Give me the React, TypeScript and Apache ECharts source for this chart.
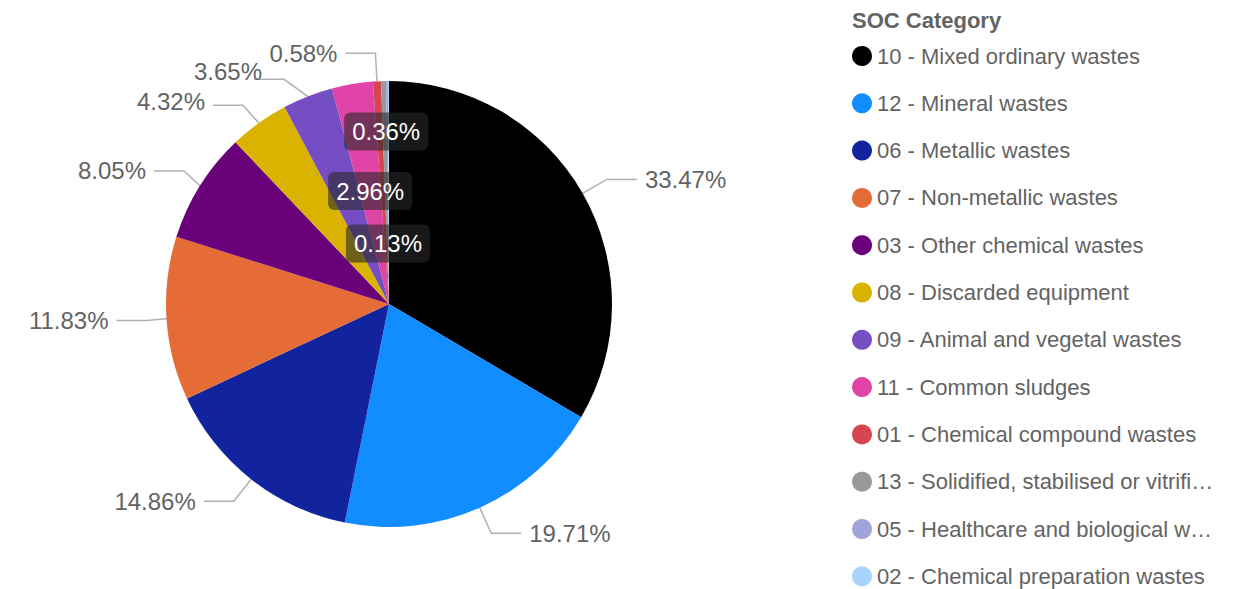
import React, { useEffect, useRef } from "react";
import * as echarts from "echarts";

const categories: string[] = [
  "10 - Mixed ordinary wastes",
  "12 - Mineral wastes",
  "06 - Metallic wastes",
  "07 - Non-metallic wastes",
  "03 - Other chemical wastes",
  "08 - Discarded equipment",
  "09 - Animal and vegetal wastes",
  "11 - Common sludges",
  "01 - Chemical compound wastes",
  "13 - Solidified, stabilised or vitrified wastes",
  "05 - Healthcare and biological wastes",
  "02 - Chemical preparation wastes",
];

const shares: number[] = [33.47, 19.71, 14.86, 11.83, 8.05, 4.32, 3.65, 2.96, 0.58, 0.36, 0.13, 0.08];

const colors: string[] = [
  "#000000",
  "#118DFF",
  "#12239E",
  "#E66C37",
  "#6B007B",
  "#D9B300",
  "#744EC2",
  "#E044A7",
  "#D64550",
  "#999999",
  "#A0A4D8",
  "#A8D4FF",
];

const insideLabels: string[] = [
  "11 - Common sludges",
  "13 - Solidified, stabilised or vitrified wastes",
  "05 - Healthcare and biological wastes",
];
const hiddenLabels: string[] = ["02 - Chemical preparation wastes"];

const FONT = "'Liberation Sans', Arial, sans-serif";

export default function App() {
  const ref = useRef<HTMLDivElement>(null);
  useEffect(() => {
    document.body.style.margin = "0";
    const chart = echarts.init(ref.current!, undefined, { renderer: "svg" });
    const data = categories.map((name, i) => {
      const item: any = { name, value: shares[i], itemStyle: { color: colors[i] } };
      if (insideLabels.includes(name)) {
        item.label = {
          position: "inside",
          color: "#ffffff",
          backgroundColor: "rgba(40,40,40,0.6)",
          borderRadius: 6,
          padding: [8, 8, 6, 8],
        };
      }
      if (hiddenLabels.includes(name)) {
        item.label = { show: false };
        item.labelLine = { show: false };
      }
      return item;
    });
    const shiftByName: Record<string, [number, number]> = {
      "11 - Common sludges": [0, 0],
      "13 - Solidified, stabilised or vitrified wastes": [0, -58],
      "05 - Healthcare and biological wastes": [0, 54],
      "08 - Discarded equipment": [0, -4],
      "09 - Animal and vegetal wastes": [16, -8],
    };
    chart.setOption({
      animation: false,
      textStyle: { fontFamily: FONT },
      title: {
        text: "SOC Category",
        left: 847,
        top: 4,
        textStyle: { fontFamily: FONT, fontSize: 22, fontWeight: "bold", color: "#636363" },
      },
      legend: {
        orient: "vertical",
        left: 847,
        top: 40,
        height: 560,
        icon: "circle",
        itemWidth: 20,
        itemHeight: 20,
        itemGap: 25.3,
        data: categories,
        textStyle: {
          fontFamily: FONT,
          fontSize: 22,
          color: "#636363",
          width: 343,
          overflow: "truncate",
          ellipsis: "…",
          padding: [0, 0, 0, 0],
        },
      },
      series: [
        {
          type: "pie",
          center: [389, 304],
          radius: [0, 223],
          startAngle: 90,
          clockwise: true,
          avoidLabelOverlap: true,
          data,
          label: {
            show: true,
            formatter: (p: any) => p.value.toFixed(2) + "%",
            fontFamily: FONT,
            fontSize: 24,
            color: "#636363",
            distanceToLabelLine: 8,
          },
          labelLine: {
            show: true,
            length: 28,
            length2: 30,
            lineStyle: { color: "#b0b0b0", width: 1.5 },
          },
          labelLayout: (params: any) => {
            const name = categories[params.dataIndex];
            const s = shiftByName[name];
            if (s) return { dx: s[0], dy: s[1] };
            return {};
          },
          emphasis: { disabled: true },
        },
      ],
    });
    return () => chart.dispose();
  }, []);
  return (
    <div
      ref={ref}
      style={{ position: "absolute", left: 0, top: 0, width: 1252, height: 589 }}
    />
  );
}
